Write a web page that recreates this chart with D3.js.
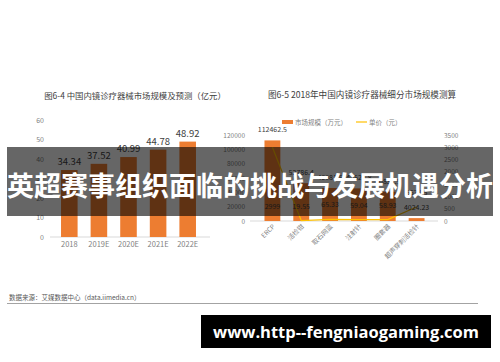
<!DOCTYPE html>
<html>
<head>
<meta charset="utf-8">
<script src="https://cdn.jsdelivr.net/npm/d3@7"></script>
<style>
  body { margin: 0; background: #fff; }
  svg { display: block; font-family: "Noto Sans CJK SC", "Noto Sans", sans-serif; }
</style>
</head>
<body>
<svg id="chart" width="500" height="362"></svg>
<script>
// left chart: market size and forecast (亿元)
const years = ["2018", "2019E", "2020E", "2021E", "2022E"];
const marketSize = [34.34, 37.52, 40.99, 44.78, 48.92];
const leftTicks = [0, 10, 20, 30, 40, 50, 60];

// right chart: 2018 segment sizes
const segments = ["ERCP", "活检钳", "取石网篮", "注射针", "圈套器", "超声穿刺活检针"];
const segSize = [112462.5, 52786.4, 46081.5, 45520.8, 40837.5, 4024.23];
const unitPrice = [2999, 19.55, 65.33, 59.04, 58.93, 567.55];
const sizeTicks = [0, 20000, 40000, 60000, 80000, 100000, 120000];
const priceTicks = [0, 500, 1000, 1500, 2000, 2500, 3000, 3500];

const orange = "#ED7D31";
const yellow = "#FFC000";
const axisText = "#7f7f7f";
const labelText = "#404040";

const svg = d3.select("#chart");

// ---- left chart ----

const x1 = d3.scaleBand().domain(years).range([48, 209]).padding(0.44);
const y1 = d3.scaleLinear().domain([0, 60]).range([237, 120]);

svg.append("text")
  .attr("x", 135).attr("y", 99)
  .attr("text-anchor", "middle")
  .attr("font-size", 8.4)
  .attr("fill", labelText)
  .text("图6-4 中国内镜诊疗器械市场规模及预测（亿元）");

const left = svg.append("g");

left.append("g")
  .attr("transform", "translate(44,0)")
  .call(d3.axisLeft(y1).tickValues(leftTicks).tickFormat(d3.format("d")).tickSize(0).tickPadding(0))
  .call(g => g.select(".domain").remove())
  .selectAll("text")
  .attr("fill", axisText)
  .attr("font-size", 7)
  .attr("font-family", "Noto Sans CJK SC");

left.append("line")
  .attr("x1", 50).attr("x2", 210)
  .attr("y1", y1(0)).attr("y2", y1(0))
  .attr("stroke", "#d9d9d9");

left.selectAll("rect")
  .data(marketSize)
  .enter()
  .append("rect")
  .attr("x", (d, i) => x1(years[i]))
  .attr("y", d => y1(d))
  .attr("width", x1.bandwidth())
  .attr("height", d => y1(0) - y1(d))
  .attr("fill", orange);

left.selectAll(".val")
  .data(marketSize)
  .enter()
  .append("text")
  .attr("class", "val")
  .attr("x", (d, i) => x1(years[i]) + x1.bandwidth() / 2)
  .attr("y", d => y1(d) - 5)
  .attr("text-anchor", "middle")
  .attr("font-size", 9.5)
  .attr("fill", labelText)
  .text(d => d.toFixed(2));

left.append("g")
  .attr("transform", "translate(0," + (y1(0) + 4) + ")")
  .call(d3.axisBottom(x1).tickSize(0).tickPadding(0))
  .call(g => g.select(".domain").remove())
  .selectAll("text")
  .attr("dy", "0.8em")
  .attr("fill", axisText)
  .attr("font-size", 7.5)
  .attr("font-family", "Noto Sans CJK SC");

// ---- right chart ----

const x2 = d3.scaleBand().domain(segments).range([251.5, 437.5]).padding(0.45);
const y2 = d3.scaleLinear().domain([0, 120000]).range([221, 135]);
const y3 = d3.scaleLinear().domain([0, 3500]).range([221, 135]);

svg.append("text")
  .attr("x", 362).attr("y", 98)
  .attr("text-anchor", "middle")
  .attr("font-size", 8.6)
  .attr("fill", labelText)
  .text("图6-5 2018年中国内镜诊疗器械细分市场规模测算");

const right = svg.append("g");

// legend
right.append("rect")
  .attr("x", 282).attr("y", 120).attr("width", 11).attr("height", 4)
  .attr("fill", orange);
right.append("text")
  .attr("x", 295).attr("y", 124.5)
  .attr("font-size", 6.5).attr("fill", axisText)
  .text("市场规模（万元）");
right.append("line")
  .attr("x1", 356).attr("x2", 367).attr("y1", 122).attr("y2", 122)
  .attr("stroke", yellow).attr("stroke-width", 1.2);
right.append("text")
  .attr("x", 369).attr("y", 124.5)
  .attr("font-size", 6.5).attr("fill", axisText)
  .text("单价（元）");

right.append("g")
  .attr("transform", "translate(245,0)")
  .call(d3.axisLeft(y2).tickValues(sizeTicks).tickFormat(d3.format("d")).tickSize(0).tickPadding(0))
  .call(g => g.select(".domain").remove())
  .selectAll("text")
  .attr("fill", axisText)
  .attr("font-size", 6.5)
  .attr("font-family", "Noto Sans CJK SC");

right.append("g")
  .attr("transform", "translate(444,0)")
  .call(d3.axisRight(y3).tickValues(priceTicks).tickFormat(d3.format("d")).tickSize(0).tickPadding(0))
  .call(g => g.select(".domain").remove())
  .selectAll("text")
  .attr("fill", axisText)
  .attr("font-size", 6.5)
  .attr("font-family", "Noto Sans CJK SC");

right.append("line")
  .attr("x1", 250).attr("x2", 438)
  .attr("y1", y2(0)).attr("y2", y2(0))
  .attr("stroke", "#d9d9d9");

right.selectAll(".bar")
  .data(segSize)
  .enter()
  .append("rect")
  .attr("class", "bar")
  .attr("x", (d, i) => x2(segments[i]))
  .attr("y", d => y2(d))
  .attr("width", x2.bandwidth())
  .attr("height", d => y2(0) - y2(d))
  .attr("fill", orange);

const cx2 = i => x2(segments[i]) + x2.bandwidth() / 2;

right.append("path")
  .datum(unitPrice)
  .attr("d", d3.line().x((d, i) => cx2(i)).y(d => y3(d)))
  .attr("fill", "none")
  .attr("stroke", yellow)
  .attr("stroke-width", 1.2);

right.selectAll(".sval")
  .data(segSize)
  .enter()
  .append("text")
  .attr("class", "sval")
  .attr("x", (d, i) => cx2(i))
  .attr("y", d => y2(d) - 8)
  .attr("text-anchor", "middle")
  .attr("font-size", 7)
  .attr("fill", labelText)
  .text(d => d);

right.selectAll(".pval")
  .data(unitPrice)
  .enter()
  .append("text")
  .attr("class", "pval")
  .attr("x", (d, i) => cx2(i))
  .attr("y", (d, i) => i === 0 ? y3(0) - 12 : y3(d) - 12)
  .attr("text-anchor", "middle")
  .attr("font-size", 7)
  .attr("fill", labelText)
  .text(d => d);

right.selectAll(".cat")
  .data(segments)
  .enter()
  .append("text")
  .attr("class", "cat")
  .attr("transform", (d, i) => "translate(" + (cx2(i) + 3) + "," + (y2(0) + 6) + ") rotate(-45)")
  .attr("text-anchor", "end")
  .attr("font-size", 6.5)
  .attr("fill", axisText)
  .text(d => d);

// ---- source line ----

svg.append("text")
  .attr("x", 9).attr("y", 300)
  .attr("font-size", 6.5)
  .attr("fill", "#595959")
  .text("数据来源：艾媒数据中心（data.iimedia.cn）");

svg.append("line")
  .attr("x1", 7).attr("x2", 478).attr("y1", 303.5).attr("y2", 303.5)
  .attr("stroke", "#8c8c8c").attr("stroke-width", 0.8);

// ---- title banner ----

svg.append("rect")
  .attr("x", 7).attr("y", 147).attr("width", 486).attr("height", 69)
  .attr("fill", "rgba(0,0,0,0.6)");

svg.append("text")
  .attr("x", 250).attr("y", 196)
  .attr("text-anchor", "middle")
  .attr("font-size", 27)
  .attr("font-weight", "bold")
  .attr("fill", "#fff")
  .text("英超赛事组织面临的挑战与发展机遇分析");

// ---- watermark ----

svg.append("rect")
  .attr("x", 201).attr("y", 315).attr("width", 290).attr("height", 33)
  .attr("fill", "#000");

svg.append("text")
  .attr("x", 346).attr("y", 338)
  .attr("text-anchor", "middle")
  .attr("font-size", 16.5)
  .attr("font-weight", "bold")
  .attr("font-family", "'Open Sans', sans-serif")
  .attr("fill", "#fff")
  .text("www.http--fengniaogaming.com");
</script>
</body>
</html>
